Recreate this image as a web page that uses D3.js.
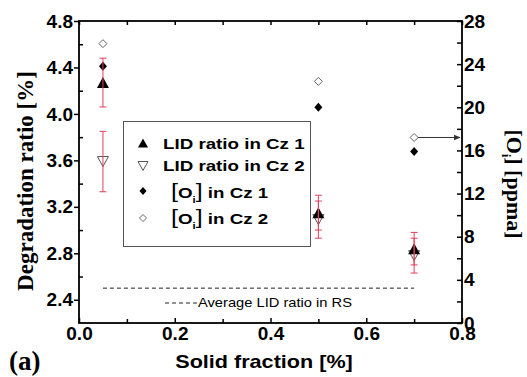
<!DOCTYPE html>
<html>
<head>
<meta charset="utf-8">
<script src="https://cdn.jsdelivr.net/npm/d3@7"></script>
<style>
  body { margin: 0; background: #fff; }
  svg { display: block; }
</style>
</head>
<body>
<div id="chart"></div>
<script>
// solid fraction positions and measured values
var solidFraction = [0.05, 0.5, 0.7];
var lidCz1 = [4.27, 3.15, 2.84];
var lidCz1Err = [0.21, 0.15, 0.14];
var lidCz2 = [3.59, 3.09, 2.78];
var lidCz2Err = [0.26, 0.16, 0.15];
var oiCz1 = [23.8, 20.0, 15.9];
var oiCz2 = [25.9, 22.4, 17.2];
var rsAverage = 2.5;
var rsRange = [0.05, 0.7];

var xTicks = [0, 0.2, 0.4, 0.6, 0.8];
var xMinor = [0.1, 0.3, 0.5, 0.7];
var yLeftTicks = [2.4, 2.8, 3.2, 3.6, 4.0, 4.4, 4.8];
var yLeftMinor = [2.6, 3.0, 3.4, 3.8, 4.2, 4.6];
var yRightTicks = [0, 4, 8, 12, 16, 20, 24, 28];
var yRightMinor = [2, 6, 10, 14, 18, 22, 26];

var legendLabels = ["LID ratio in Cz 1", "LID ratio in Cz 2", "in Cz 1", "in Cz 2"];

var width = 527, height = 377;
var margin = { top: 21, right: 65, bottom: 54, left: 79 };
var sans = "'Liberation Sans', Arial, sans-serif";
var serif = "'Liberation Serif', 'Times New Roman', serif";
var errColor = "#e2405c";

var svg = d3.select("#chart").append("svg")
  .attr("width", width)
  .attr("height", height);

var x = d3.scaleLinear().domain([0, 0.8]).range([margin.left, width - margin.right]);
var yL = d3.scaleLinear().domain([2.2, 4.8]).range([height - margin.bottom, margin.top]);
var yR = d3.scaleLinear().domain([0, 28]).range([height - margin.bottom, margin.top]);

var x0 = x.range()[0], x1 = x.range()[1];
var yb = yL.range()[0], yt = yL.range()[1];

svg.append("defs").append("marker")
  .attr("id", "arrow")
  .attr("viewBox", "0 0 10 10")
  .attr("refX", 9).attr("refY", 5)
  .attr("markerWidth", 7).attr("markerHeight", 7)
  .attr("orient", "auto")
  .append("path")
  .attr("d", "M0,1 L10,5 L0,9 Z")
  .attr("fill", "#333");

// little shape helpers
function triUp(w, h) { return "M0," + (-h / 2) + "L" + (w / 2) + "," + (h / 2) + "L" + (-w / 2) + "," + (h / 2) + "Z"; }
function triDown(w, h) { return "M0," + (h / 2) + "L" + (w / 2) + "," + (-h / 2) + "L" + (-w / 2) + "," + (-h / 2) + "Z"; }
function diamond(w, h) { return "M0," + (-h / 2) + "L" + (w / 2) + ",0L0," + (h / 2) + "L" + (-w / 2) + ",0Z"; }

function styleAxis(g) {
  g.selectAll(".domain").remove();
  g.selectAll(".tick line").attr("stroke", "#000").attr("stroke-width", 1.5);
  g.selectAll("text")
    .attr("font-family", sans)
    .attr("font-weight", "bold")
    .attr("font-size", 19)
    .attr("fill", "#000");
}

// bottom axis: ticks inward
svg.append("g")
  .attr("transform", "translate(0," + yb + ")")
  .call(d3.axisBottom(x).tickValues(xTicks).tickSizeInner(-5).tickSizeOuter(0).tickPadding(3).tickFormat(d3.format(".1f")))
  .call(styleAxis);
svg.append("g")
  .attr("transform", "translate(0," + yb + ")")
  .call(d3.axisTop(x).tickValues(xMinor).tickSize(4).tickFormat(""))
  .call(styleAxis);

// top axis
svg.append("g")
  .attr("transform", "translate(0," + yt + ")")
  .call(d3.axisBottom(x).tickValues(xTicks.concat(xMinor)).tickSize(4).tickFormat(""))
  .call(styleAxis);

// left axis: major out, minor in
svg.append("g")
  .attr("transform", "translate(" + x0 + ",0)")
  .call(d3.axisLeft(yL).tickValues(yLeftTicks).tickSize(5).tickPadding(1).tickFormat(d3.format(".1f")))
  .call(styleAxis);
svg.append("g")
  .attr("transform", "translate(" + x0 + ",0)")
  .call(d3.axisRight(yL).tickValues(yLeftMinor).tickSize(4).tickFormat(""))
  .call(styleAxis);

// right axis: ticks inward
svg.append("g")
  .attr("transform", "translate(" + x1 + ",0)")
  .call(d3.axisLeft(yR).tickValues(yRightTicks.concat(yRightMinor)).tickSize(5).tickFormat(""))
  .call(styleAxis);
var rAx = svg.append("g")
  .attr("transform", "translate(" + x1 + ",0)")
  .call(d3.axisRight(yR).tickValues(yRightTicks).tickSize(0).tickPadding(2).tickFormat(d3.format("d")))
  .call(styleAxis);
rAx.selectAll(".tick line").remove();

// frame
svg.append("rect")
  .attr("x", x0).attr("y", yt)
  .attr("width", x1 - x0).attr("height", yb - yt)
  .attr("fill", "none").attr("stroke", "#000").attr("stroke-width", 1.8);

// average LID ratio in RS
svg.append("line")
  .attr("x1", x(rsRange[0])).attr("x2", x(rsRange[1]))
  .attr("y1", yL(rsAverage)).attr("y2", yL(rsAverage))
  .attr("stroke", "#222").attr("stroke-width", 1).attr("stroke-dasharray", "4,3");
svg.append("line")
  .attr("x1", 165).attr("x2", 197).attr("y1", 303).attr("y2", 303)
  .attr("stroke", "#222").attr("stroke-width", 1).attr("stroke-dasharray", "4,3");
svg.append("text")
  .attr("transform", "translate(198,307) scale(1.13,1)")
  .attr("font-family", sans).attr("font-size", 13).attr("fill", "#000")
  .text("Average LID ratio in RS");

// oxygen markers (right axis)
svg.selectAll(".oi2").data(solidFraction).enter().append("path")
  .attr("transform", function(d, i) { return "translate(" + x(d) + "," + yR(oiCz2[i]) + ")"; })
  .attr("d", diamond(8, 8))
  .attr("fill", "#fff").attr("stroke", "#666").attr("stroke-width", 1);
svg.selectAll(".oi1").data(solidFraction).enter().append("path")
  .attr("transform", function(d, i) { return "translate(" + x(d) + "," + yR(oiCz1[i]) + ")"; })
  .attr("d", diamond(8, 9))
  .attr("fill", "#000");

// arrow from last open diamond to the right axis
svg.append("line")
  .attr("x1", x(solidFraction[2]) + 4).attr("x2", x1 - 2)
  .attr("y1", yR(oiCz2[2])).attr("y2", yR(oiCz2[2]))
  .attr("stroke", "#333").attr("stroke-width", 1)
  .attr("marker-end", "url(#arrow)");

// LID markers
svg.selectAll(".lid2").data(solidFraction).enter().append("path")
  .attr("transform", function(d, i) { return "translate(" + x(d) + "," + yL(lidCz2[i]) + ")"; })
  .attr("d", triDown(11, 10))
  .attr("fill", "#fff").attr("stroke", "#555").attr("stroke-width", 1);
svg.selectAll(".lid1").data(solidFraction).enter().append("path")
  .attr("transform", function(d, i) { return "translate(" + x(d) + "," + yL(lidCz1[i]) + ")"; })
  .attr("d", triUp(12, 11))
  .attr("fill", "#000");

// error bars on top
function errBars(vals, errs) {
  var g = svg.append("g").attr("stroke", errColor).attr("stroke-width", 1);
  solidFraction.forEach(function(d, i) {
    var cx = x(d), lo = yL(vals[i] - errs[i]), hi = yL(vals[i] + errs[i]);
    g.append("line").attr("x1", cx).attr("x2", cx).attr("y1", lo).attr("y2", hi);
    g.append("line").attr("x1", cx - 3.5).attr("x2", cx + 3.5).attr("y1", lo).attr("y2", lo);
    g.append("line").attr("x1", cx - 3.5).attr("x2", cx + 3.5).attr("y1", hi).attr("y2", hi);
  });
}
errBars(lidCz1, lidCz1Err);
errBars(lidCz2, lidCz2Err);

// legend
svg.append("rect")
  .attr("x", 123.5).attr("y", 121.5).attr("width", 187).attr("height", 125)
  .attr("fill", "#fff").attr("stroke", "#555").attr("stroke-width", 1);

var legendRows = [
  { my: 143, ty: 148.5, shape: triUp(10, 9), fill: "#000", stroke: "none" },
  { my: 166, ty: 171, shape: triDown(10, 9), fill: "#fff", stroke: "#555" },
  { my: 191, ty: 197.5, shape: diamond(7, 8), fill: "#000", stroke: "none" },
  { my: 218, ty: 223.5, shape: diamond(7, 7), fill: "#fff", stroke: "#666" }
];
legendRows.forEach(function(r, i) {
  svg.append("path")
    .attr("transform", "translate(143," + r.my + ")")
    .attr("d", r.shape)
    .attr("fill", r.fill).attr("stroke", r.stroke).attr("stroke-width", 1);
  var t = svg.append("text")
    .attr("font-family", sans).attr("font-weight", "bold").attr("font-size", 15).attr("fill", "#000");
  if (i < 2) {
    t.attr("transform", "translate(163," + r.ty + ") scale(1.25,1)").text(legendLabels[i]);
  } else {
    t.attr("transform", "translate(171," + r.ty + ") scale(1.25,1)");
    t.append("tspan").attr("font-weight", "normal").attr("font-size", 20).text("[");
    t.append("tspan").text("O");
    t.append("tspan").attr("font-size", 9).attr("dy", 5).text("i");
    t.append("tspan").attr("font-weight", "normal").attr("font-size", 20).attr("dy", -5).text("]");
    t.append("tspan").text(" " + legendLabels[i]);
  }
});

// axis titles
svg.append("text")
  .attr("transform", "translate(33,181) rotate(-90)")
  .attr("text-anchor", "middle")
  .attr("font-family", serif).attr("font-weight", "bold").attr("font-size", 23)
  .text("Degradation ratio [%]");

var rt = svg.append("text")
  .attr("transform", "translate(507,184) rotate(90)")
  .attr("text-anchor", "middle")
  .attr("font-family", serif).attr("font-weight", "bold").attr("font-size", 22);
rt.append("tspan").text("[O");
rt.append("tspan").attr("font-size", 12).attr("dy", 5).text("i");
rt.append("tspan").attr("dy", -5).text("] [ppma]");

svg.append("text")
  .attr("transform", "translate(264,368) scale(1.2,1)")
  .attr("text-anchor", "middle")
  .attr("font-family", sans).attr("font-weight", "bold").attr("font-size", 18)
  .text("Solid fraction [%]");

svg.append("text")
  .attr("x", 9).attr("y", 370)
  .attr("font-family", serif).attr("font-weight", "bold").attr("font-size", 27)
  .text("(a)");
</script>
</body>
</html>
